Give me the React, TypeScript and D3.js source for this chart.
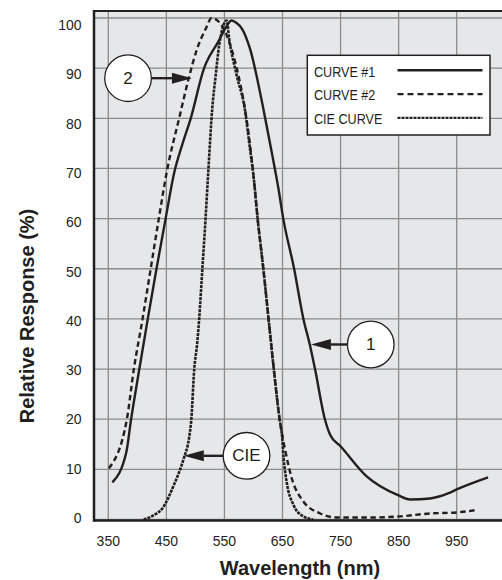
import React from 'react';
import * as d3 from 'd3';

// curve #1 (solid)
const curve1Wl = [357, 381, 389, 402, 418, 433, 449, 463, 478, 492, 515, 518, 539, 554, 562, 571, 580, 594, 617, 631, 643, 651, 670, 686, 697, 706, 723, 732, 750, 795, 848, 870, 904, 935, 950, 1004];
const curve1Val = [7.4, 13.4, 19.8, 29, 40, 50, 60.2, 68.9, 75, 80, 90, 90.9, 95.2, 98.4, 99.5, 99, 97.9, 93.9, 81.9, 73.5, 66, 60.2, 50, 40, 34.9, 30, 20, 16.9, 14.6, 8.6, 4.9, 4.0, 4.2, 5.2, 6.0, 8.4];

// curve #2 (dashed)
const curve2Wl = [351, 382, 394, 409, 423, 437, 451, 472, 489, 503, 518, 528, 545, 560, 574, 588, 600, 607, 617, 626, 635, 645, 654, 666, 686, 715, 743, 800, 850, 904, 950, 984];
const curve2Val = [10.2, 20, 30, 40, 50, 60, 69.5, 80, 88.2, 93.9, 97.9, 100, 98.6, 94.6, 88.6, 79.9, 68.6, 60.2, 50, 40, 30, 20, 14.2, 8.2, 3.6, 1.2, 0.4, 0.4, 0.6, 1.2, 1.4, 1.9];

// CIE curve (fine dashes)
const cieWl = [411, 429, 443, 463, 480, 489, 493, 498, 503, 506.5, 512, 517.5, 522, 529, 535, 541, 554, 558, 571, 585, 594, 600, 607, 617, 626, 635, 645, 649, 652, 657, 669, 686, 703];
const cieVal = [0, 0.9, 2.2, 6.9, 12.2, 16.2, 20, 30, 35, 40, 50, 60, 69, 81.9, 88.6, 94.6, 99.5, 96, 88.6, 81.9, 73.9, 68.6, 60.2, 50, 40, 30, 20, 16.9, 12.2, 7.6, 2.9, 0.6, 0];

const xTicks = [350, 450, 550, 650, 750, 850, 950];
const yTicks = [0, 10, 20, 30, 40, 50, 60, 70, 80, 90, 100];

const legendNames = ['CURVE #1', 'CURVE #2', 'CIE CURVE'];

// callouts: label, circle position, arrow tip wavelength
const annLabels = ['2', '1', 'CIE'];
const annWl = [384, 802, 588];
const annVal = [88, 34.9, 12.7];
const annTipWl = [494, 699, 480];

const W = 502;
const H = 580;
const ink = '#231f20';
const font = "'Liberation Sans', Arial, Helvetica, sans-serif";

const styles = [
  { dash: 'none', width: 2.4 },
  { dash: '5.5,3.5', width: 2.4 },
  { dash: '3,1', width: 2.6 },
];

export default function App() {
  const x = d3.scaleLinear().domain([350, 950]).range([108.3, 456.7]);
  const y = d3.scaleLinear().domain([0, 100]).range([519.5, 18]);
  const yLab = d3.scaleLinear().domain([0, 100]).range([518, 25]);

  const left = 94;
  const top = 11;
  const bottom = 520.5;

  const line = d3
    .line<[number, number]>()
    .x((d) => x(d[0]))
    .y((d) => y(d[1]))
    .curve(d3.curveMonotoneX);

  const series = [
    d3.zip(curve1Wl, curve1Val) as [number, number][],
    d3.zip(curve2Wl, curve2Val) as [number, number][],
    d3.zip(cieWl, cieVal) as [number, number][],
  ];

  const gridX = d3.range(350, 1051, 100);

  return (
    <svg width={W} height={H} style={{ position: 'absolute', left: 0, top: 0, background: '#fff' }}>
      <rect x={left} y={top} width={W - left} height={bottom - top} fill="#e6e7e8" />

      {gridX.map((v) => (
        <line key={'gx' + v} x1={x(v)} x2={x(v)} y1={top} y2={bottom} stroke="#8c8c8c" strokeWidth={1.3} />
      ))}
      {yTicks.map((v) => (
        <line key={'gy' + v} x1={left} x2={W} y1={y(v)} y2={y(v)} stroke="#8c8c8c" strokeWidth={1.3} />
      ))}

      {/* frame */}
      <line x1={left} x2={W} y1={top} y2={top} stroke={ink} strokeWidth={2} />
      <line x1={left} x2={left} y1={top - 1} y2={bottom + 1.3} stroke={ink} strokeWidth={2.5} />
      <line x1={left} x2={W} y1={bottom} y2={bottom} stroke={ink} strokeWidth={2.6} />

      {series.map((s, i) => (
        <path
          key={'s' + i}
          d={line(s) || ''}
          fill="none"
          stroke={ink}
          strokeWidth={styles[i].width}
          strokeDasharray={styles[i].dash}
          strokeLinejoin="round"
        />
      ))}

      {/* tick labels */}
      {yTicks.map((v) => (
        <text key={'yl' + v} x={81.5} y={yLab(v)} textAnchor="end" dominantBaseline="central" fontFamily={font} fontSize={14} fill={ink}>
          {v}
        </text>
      ))}
      {xTicks.map((v) => (
        <text key={'xl' + v} x={x(v)} y={545.5} textAnchor="middle" fontFamily={font} fontSize={14} fill={ink}>
          {v}
        </text>
      ))}

      <text x={300} y={575} textAnchor="middle" fontFamily={font} fontSize={20} fontWeight="bold" fill={ink}>
        Wavelength (nm)
      </text>
      <text
        transform="translate(34,316) rotate(-90)"
        textAnchor="middle"
        fontFamily={font}
        fontSize={20}
        fontWeight="bold"
        fill={ink}
      >
        Relative Response (%)
      </text>

      {/* legend */}
      <g>
        <rect x={307.3} y={55.3} width={182.7} height={79.7} fill="#fff" stroke={ink} strokeWidth={1.5} />
        {legendNames.map((n, i) => (
          <g key={'lg' + i}>
            <text
              transform={`translate(314,${76.5 + i * 23.6}) scale(0.84,1)`}
              fontFamily={font}
              fontSize={15}
              fill={ink}
            >
              {n}
            </text>
            <line
              x1={397.5}
              x2={482.5}
              y1={70.3 + i * 23.8}
              y2={70.3 + i * 23.8}
              stroke={ink}
              strokeWidth={i === 0 ? 2.6 : 2.4}
              strokeDasharray={i === 1 ? '6,4' : i === 2 ? '3,1' : 'none'}
            />
          </g>
        ))}
      </g>

      {/* callouts */}
      {annLabels.map((lab, i) => {
        const cx = x(annWl[i]);
        const cy = y(annVal[i]);
        const tx = x(annTipWl[i]);
        const r = 23.3;
        const dir = tx > cx ? 1 : -1;
        const start = cx + dir * r;
        const head = 20;
        const hw = 5.5;
        return (
          <g key={'an' + i}>
            <line x1={start} x2={tx - dir * head} y1={cy} y2={cy} stroke={ink} strokeWidth={2.4} />
            <path
              d={`M${tx},${cy} L${tx - dir * head},${cy - hw} L${tx - dir * head},${cy + hw} Z`}
              fill={ink}
            />
            <circle cx={cx} cy={cy} r={r} fill="#fff" stroke={ink} strokeWidth={1.3} />
            <text x={cx} y={cy} textAnchor="middle" dominantBaseline="central" fontFamily={font} fontSize={17} fill={ink}>
              {lab}
            </text>
          </g>
        );
      })}
    </svg>
  );
}
